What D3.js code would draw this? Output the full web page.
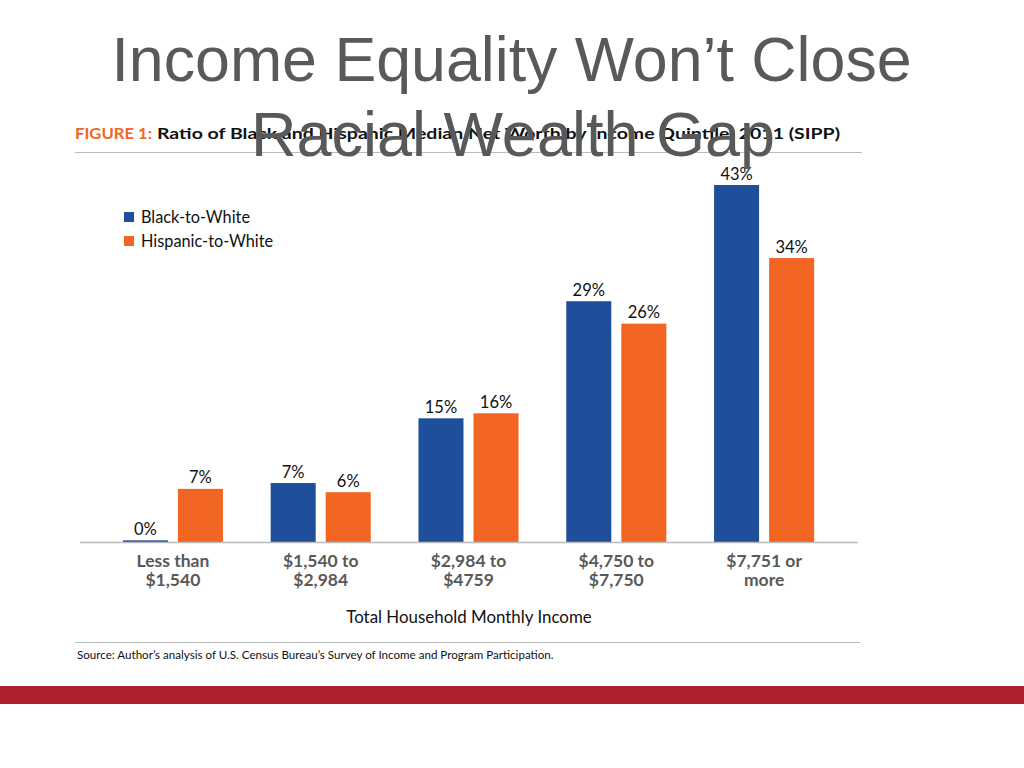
<!DOCTYPE html>
<html><head><meta charset="utf-8">
<script src="https://cdn.jsdelivr.net/npm/d3@7"></script>
<style>body{margin:0;background:#fff;} svg{display:block;}</style>
</head><body>
<svg id="c" width="1024" height="768"></svg>
<script>
const categories = [["Less than","$1,540"],["$1,540 to","$2,984"],["$2,984 to","$4759"],["$4,750 to","$7,750"],["$7,751 or","more"]];
const seriesNames = ["Black-to-White","Hispanic-to-White"];
const blackValues = [0.2, 7.1, 14.9, 29.0, 43.0];
const hispanicValues = [6.4, 6.0, 15.5, 26.3, 34.2];
const blackLabels = ["0%","7%","15%","29%","43%"];
const hispanicLabels = ["7%","6%","16%","26%","34%"];
const colors = ["#1f4e9a","#f26522"];

const svg = d3.select("#c");
const font = "Lato, 'Noto Sans', sans-serif";

// red band at bottom
svg.append("rect").attr("x",0).attr("y",686).attr("width",1024).attr("height",18).attr("fill","#b01f2e");

// figure caption
const cap = svg.append("text").attr("y",139).attr("font-family",font).attr("font-weight","bold").attr("font-size",16);
cap.append("tspan").attr("x",75).attr("fill","#f26522").attr("textLength",77).attr("lengthAdjust","spacingAndGlyphs").text("FIGURE 1:");
cap.append("tspan").attr("x",157).attr("fill","#111").attr("textLength",683).attr("lengthAdjust","spacingAndGlyphs").text("Ratio of Black and Hispanic Median Net Worth by Income Quintile, 2011 (SIPP)");
svg.append("line").attr("x1",75).attr("x2",862).attr("y1",152.5).attr("y2",152.5).attr("stroke","#bbb").attr("stroke-width",1.2);

const base = 542;
const x0 = d3.scaleBand().domain(d3.range(categories.length)).range([99,838]).paddingInner(0.323).paddingOuter(0.1615);
const x1 = d3.scaleBand().domain([0,1]).range([0,x0.bandwidth()]).paddingInner(0.182);
const y = d3.scaleLinear().domain([0,43]).range([base,185]);

const data = [];
categories.forEach((c,i)=>{
  data.push({cat:i,s:0,v:blackValues[i],lab:blackLabels[i]});
  data.push({cat:i,s:1,v:hispanicValues[i],lab:hispanicLabels[i]});
});

svg.selectAll("rect.bar").data(data).enter().append("rect").attr("class","bar")
  .attr("x",d=>x0(d.cat)+x1(d.s)).attr("width",x1.bandwidth())
  .attr("y",d=>y(d.v)).attr("height",d=>base-y(d.v)).attr("fill",d=>colors[d.s]);

svg.selectAll("text.val").data(data).enter().append("text").attr("class","val")
  .attr("x",d=>x0(d.cat)+x1(d.s)+x1.bandwidth()/2).attr("y",d=>y(d.v)-5.5)
  .attr("text-anchor","middle").attr("font-family",font).attr("font-size",16.5).attr("fill","#111")
  .text(d=>d.lab);

// axis line
svg.append("line").attr("x1",80).attr("x2",858).attr("y1",base+0.5).attr("y2",base+0.5).attr("stroke","#bbb").attr("stroke-width",1.5);

// category labels
const cl = svg.selectAll("text.cat").data(categories).enter().append("text").attr("class","cat")
  .attr("text-anchor","middle").attr("font-family",font).attr("font-weight","bold").attr("font-size",17.5).attr("fill","#595959");
cl.each(function(c,i){
  const t = d3.select(this);
  const cx = x0(i)+x0.bandwidth()/2;
  t.append("tspan").attr("x",cx).attr("y",567).text(c[0]);
  t.append("tspan").attr("x",cx).attr("y",586).text(c[1]);
});

svg.append("text").attr("x",469).attr("y",623).attr("text-anchor","middle").attr("font-family",font).attr("font-size",16.9).attr("fill","#111").text("Total Household Monthly Income");

// legend
seriesNames.forEach((n,i)=>{
  svg.append("rect").attr("x",124).attr("y",212+i*24).attr("width",10).attr("height",10).attr("fill",colors[i]);
  svg.append("text").attr("x",141).attr("y",223+i*24).attr("font-family",font).attr("font-size",16.3).attr("fill","#111").text(n);
});

// source
svg.append("line").attr("x1",75).attr("x2",860).attr("y1",642.5).attr("y2",642.5).attr("stroke","#bbb").attr("stroke-width",1.2);
svg.append("text").attr("x",77).attr("y",659).attr("font-family",font).attr("font-size",11.6).attr("fill","#111").text("Source:  Author\u2019s analysis of U.S. Census Bureau\u2019s Survey of Income and Program Participation.");

// slide title
const tf = "'Liberation Sans', Arial, sans-serif";
svg.append("text").attr("x",511.5).attr("y",81).attr("text-anchor","middle").attr("font-family",tf).attr("font-size",62.7).attr("fill","#595959").text("Income Equality Won\u2019t Close");
svg.append("text").attr("x",513).attr("y",156).attr("text-anchor","middle").attr("font-family",tf).attr("font-size",63).attr("fill","#595959").text("Racial Wealth Gap");
</script>
</body></html>
